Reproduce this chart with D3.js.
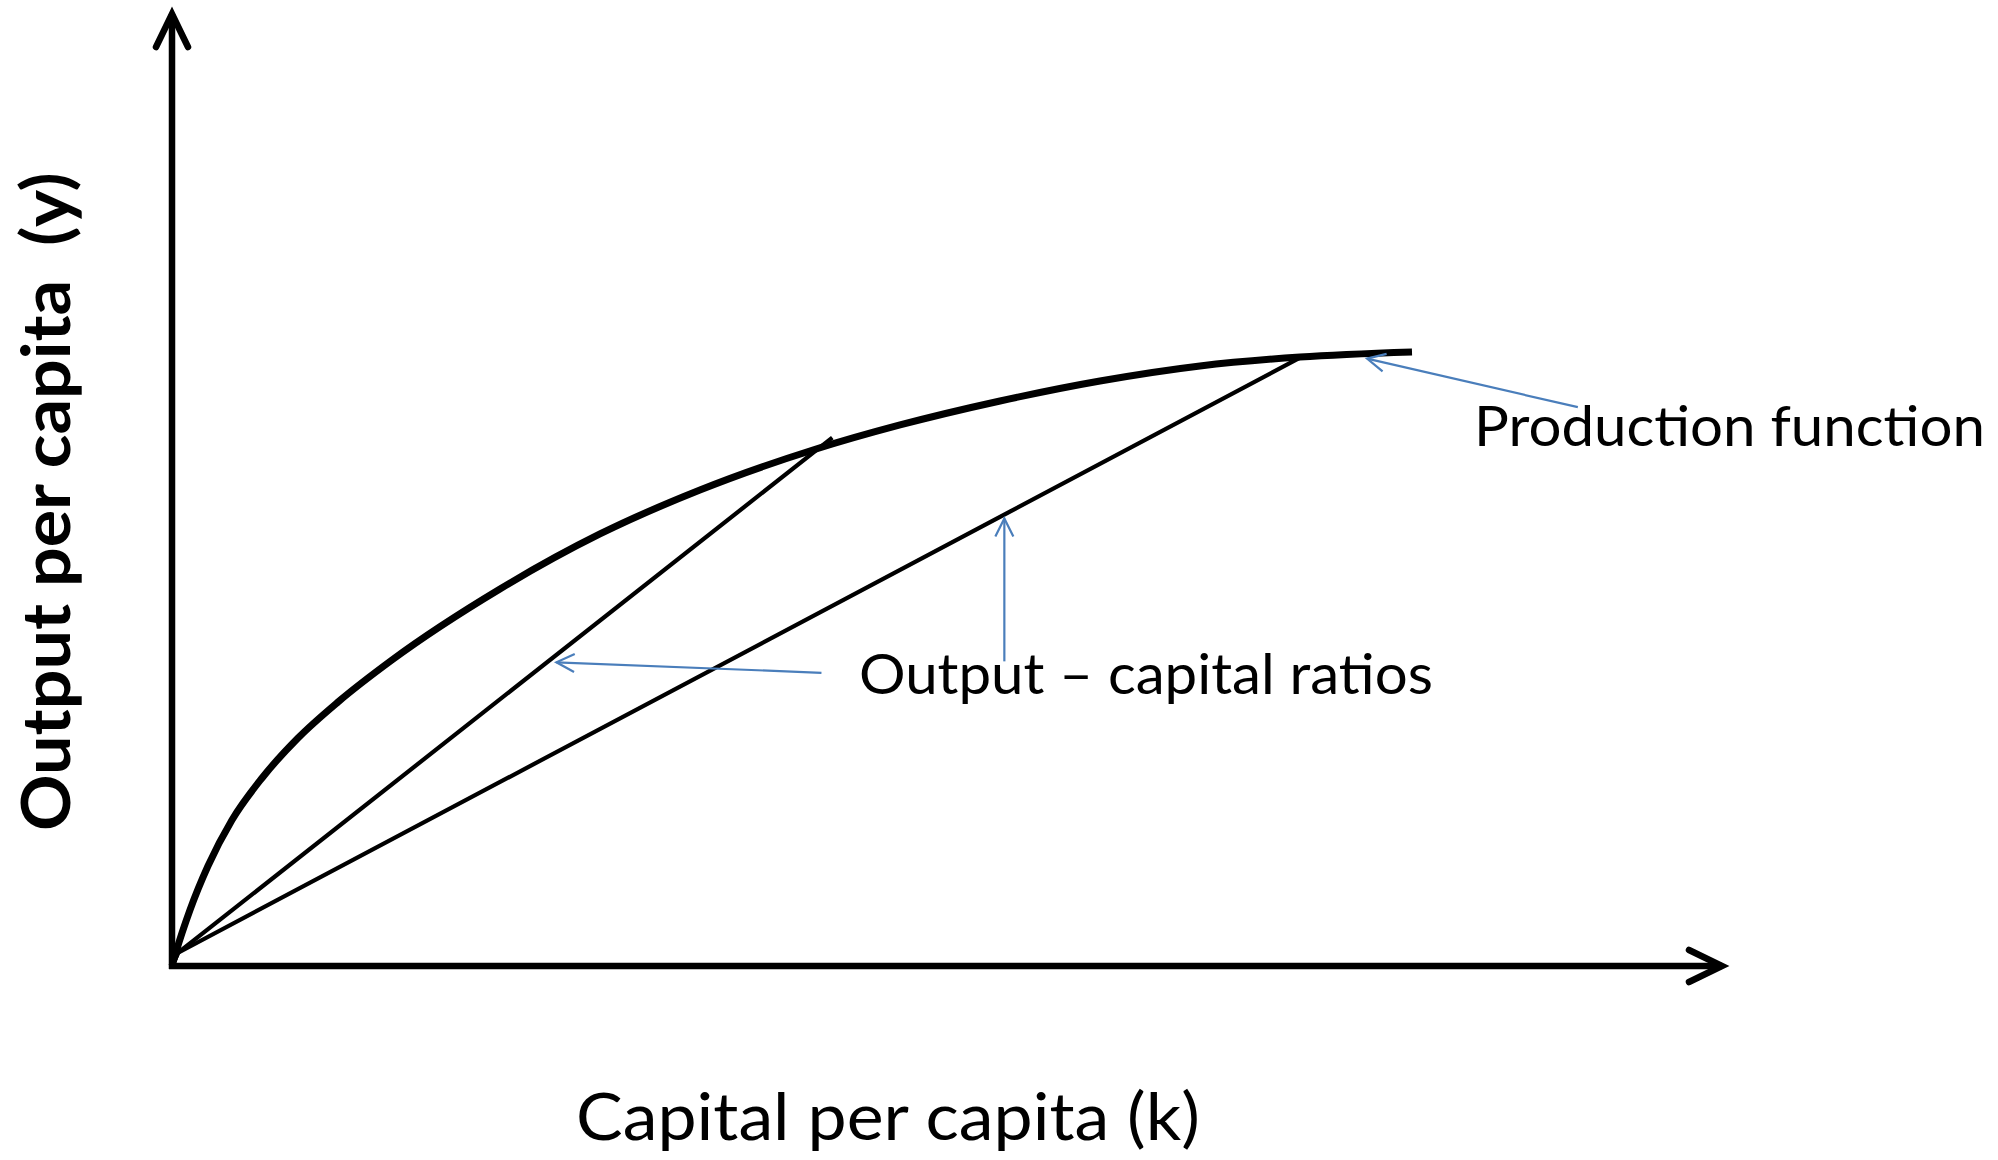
<!DOCTYPE html>
<html>
<head>
<meta charset="utf-8">
<script src="https://cdn.jsdelivr.net/npm/d3@7"></script>
<style>
  body { margin: 0; background: #fff; }
  svg { display: block; }
  text { font-family: Lato, "Open Sans", sans-serif; fill: #000; }
</style>
</head>
<body>
<script>
// production function y = f(k) (axis units 0..100)
var capital = [0, 0.26, 1.16, 2.32, 3.87, 5.81, 8.13, 10.71, 14.19, 21.16, 27.61, 34.06, 41.35, 46.97, 53.42, 59.87, 66.32, 72.77, 80.0]
var output  = [0, 1.47, 5.88, 10.5, 15.34, 19.75, 23.95, 27.73, 32.14, 39.6, 45.38, 50.0, 54.2, 56.83, 59.35, 61.45, 63.03, 63.97, 64.5]

// output-capital ratio rays from the origin
var rayK = [[0.1, 0.4, 42.6], [0.1, 0.4, 72.9]]
var rayY = [[0.3, 1.4, 55.5], [0.3, 1.4, 64.0]]

// blue pointer arrows [from, to]
var pointerK = [[41.9, 24.8], [53.7, 53.7], [90.7, 77.1]]
var pointerY = [[30.8, 31.9], [32.0, 47.0], [58.7, 63.8]]

var labels = ["Production function", "Output \u2013 capital ratios"]
var xTitle = "Capital per capita (k)"
var yTitle = "Output per capita  (y)"

var width = 1998, height = 1160
var blue = "#4a7ebb"

var x = d3.scaleLinear().domain([0, 100]).range([172, 1722])
var y = d3.scaleLinear().domain([0, 100]).range([966, 14])

var svg = d3.select("body").append("svg")
    .attr("width", width)
    .attr("height", height)

svg.append("rect").attr("width", width).attr("height", height).attr("fill", "#fff")

var defs = svg.append("defs")
defs.append("marker")
    .attr("id", "axisHead")
    .attr("markerUnits", "userSpaceOnUse")
    .attr("viewBox", "-42 -24 54 48")
    .attr("markerWidth", 54).attr("markerHeight", 48)
    .attr("refX", 0).attr("refY", 0)
    .attr("orient", "auto")
  .append("path")
    .attr("d", "M-33,-16L0,0L-33,16")
    .attr("fill", "none").attr("stroke", "#000")
    .attr("stroke-width", 6.5).attr("stroke-linecap", "round")

defs.append("marker")
    .attr("id", "blueHead")
    .attr("markerUnits", "userSpaceOnUse")
    .attr("viewBox", "-22 -12 26 24")
    .attr("markerWidth", 26).attr("markerHeight", 24)
    .attr("refX", 0).attr("refY", 0)
    .attr("orient", "auto")
  .append("path")
    .attr("d", "M-18,-9L0,0L-18,9")
    .attr("fill", "none").attr("stroke", blue)
    .attr("stroke-width", 2.2)

// axes
svg.append("line")
    .attr("x1", x(0)).attr("y1", y(0) + 3)
    .attr("x2", x(0)).attr("y2", y(100))
    .attr("stroke", "#000").attr("stroke-width", 6.5)
    .attr("marker-end", "url(#axisHead)")
svg.append("line")
    .attr("x1", x(0) - 3).attr("y1", y(0))
    .attr("x2", x(100)).attr("y2", y(0))
    .attr("stroke", "#000").attr("stroke-width", 6.5)
    .attr("marker-end", "url(#axisHead)")

// rays
var line = d3.line().x(function(d) { return x(d[0]) }).y(function(d) { return y(d[1]) })
rayK.forEach(function(ks, i) {
  var pts = ks.map(function(k, j) { return [k, rayY[i][j]] })
  svg.append("path")
      .attr("d", line(pts))
      .attr("fill", "none").attr("stroke", "#000")
      .attr("stroke-width", 4.2)
})

// production function
var curvePts = capital.map(function(k, i) { return [k, output[i]] })
svg.append("path")
    .attr("d", line.curve(d3.curveMonotoneX)(curvePts))
    .attr("fill", "none").attr("stroke", "#000")
    .attr("stroke-width", 7)

// pointers
pointerK.forEach(function(ks, i) {
  svg.append("line")
      .attr("x1", x(ks[0])).attr("y1", y(pointerY[i][0]))
      .attr("x2", x(ks[1])).attr("y2", y(pointerY[i][1]))
      .attr("stroke", blue).attr("stroke-width", 2.2)
      .attr("marker-end", "url(#blueHead)")
})

// text squeezed horizontally to the width it has in the picture
function label(str, size, weight, tx, ty, rot, w) {
  var t = svg.append("text")
      .attr("font-size", size)
      .attr("font-weight", weight)
      .style("white-space", "pre")
      .text(str)
  var sx = w / t.node().getComputedTextLength()
  t.attr("transform", "translate(" + tx + "," + ty + ") rotate(" + rot + ") scale(" + sx + ",1)")
}

label(labels[0], 57, "normal", 1474, 446, 0, 511)
label(labels[1], 57, "normal", 859, 694, 0, 574)
label(xTitle, 66.5, "normal", 576, 1140, 0, 624)
label(yTitle, 66.5, "bold", 70, 831, -90, 659)
</script>
</body>
</html>
